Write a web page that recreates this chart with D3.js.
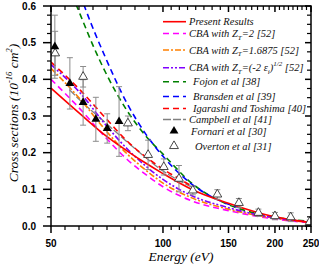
<!DOCTYPE html>
<html>
<head>
<meta charset="utf-8">
<script src="https://cdn.jsdelivr.net/npm/d3@7"></script>
<style>
  body { margin: 0; background: #fff; }
  svg { display: block; }
  .tick-label { font-family: "Liberation Sans", Arial, sans-serif; font-weight: bold; font-size: 10px; fill: #000; }
  .title { font-family: "Liberation Serif", "Times New Roman", serif; font-style: italic; fill: #000; }
  .leg { font-family: "Liberation Serif", "Times New Roman", serif; font-style: italic; font-size: 10.5px; fill: #111; }
</style>
</head>
<body>
<svg id="chart" width="319" height="264"></svg>
<script>
// ---- data ----
var presentE = [50, 60, 70, 80, 90, 100, 120, 150, 175, 200, 225, 250];
var presentY = [0.376, 0.305, 0.247, 0.205, 0.171, 0.143, 0.099, 0.062, 0.040, 0.025, 0.016, 0.009];

var cba2E = [50, 60, 70, 80, 90, 100, 120, 150, 175, 200, 225, 250];
var cba2Y = [0.400, 0.318, 0.242, 0.182, 0.140, 0.107, 0.068, 0.042, 0.028, 0.019, 0.013, 0.009];

var cba16E = [50, 60, 70, 80, 90, 100, 120, 150, 175, 200, 225, 250];
var cba16Y = [0.430, 0.345, 0.262, 0.197, 0.152, 0.117, 0.076, 0.046, 0.031, 0.021, 0.014, 0.010];

var cbaEpsE = [50, 60, 70, 80, 90, 100, 120, 150, 175, 200, 225, 250];
var cbaEpsY = [0.440, 0.362, 0.277, 0.211, 0.163, 0.127, 0.082, 0.050, 0.033, 0.022, 0.015, 0.010];

var fojonE = [57, 60, 65, 70, 80, 90, 100, 120, 150, 175, 200, 225, 250];
var fojonY = [0.63, 0.575, 0.49, 0.42, 0.315, 0.245, 0.196, 0.115, 0.058, 0.036, 0.024, 0.017, 0.012];

var bransE = [60, 62, 70, 80, 90, 100, 120, 140, 160];
var bransY = [0.63, 0.59, 0.46, 0.335, 0.25, 0.19, 0.113, 0.072, 0.050];

var igaE = [50, 60, 70, 80, 90, 100, 110, 120];
var igaY = [0.447, 0.370, 0.295, 0.232, 0.188, 0.155, 0.130, 0.108];

var campE = [56, 60, 70, 80, 90, 100, 110, 120];
var campY = [0.372, 0.342, 0.282, 0.230, 0.186, 0.150, 0.125, 0.105];

var fornariE = [51.2, 56.2, 61, 66, 70.8, 76.2];
var fornariY = [0.489, 0.389, 0.337, 0.291, 0.266, 0.285];
var fornariErr = [0.086, 0.070, 0.062, 0.060, 0.040, 0.095];

var overtonE = [51.3, 61, 80.5, 91.2, 100.5, 110.4, 120.3, 140, 160, 180.5, 200, 220.5, 248];
var overtonY = [0.471, 0.407, 0.280, 0.194, 0.161, 0.129, 0.097, 0.086, 0.063, 0.036, 0.027, 0.024, 0.011];
var overtonErr = [0.060, 0.028, 0.020, 0.040, 0.022, 0.036, 0.012, 0.013, 0.012, 0.010, 0.010, 0.012, 0.005];

var xTickValues = [50, 100, 150, 200, 250];
var yTickValues = [0.0, 0.1, 0.2, 0.3, 0.4, 0.5, 0.6];

// ---- scales ----
var svg = d3.select("#chart");
var pLeft = 51, pRight = 311, pTop = 6, pBottom = 226;

var x = d3.scaleLog().domain([50, 250]).range([pLeft, pRight]);
var y = d3.scaleLinear().domain([0, 0.6]).range([pBottom, pTop]);

svg.append("clipPath").attr("id", "clip")
  .append("rect").attr("x", pLeft).attr("y", pTop).attr("width", pRight - pLeft).attr("height", pBottom - pTop);

var plot = svg.append("g").attr("clip-path", "url(#clip)");

function zip(es, ys) { return es.map(function (e, i) { return [e, ys[i]]; }); }

var line = d3.line()
  .x(function (d) { return x(d[0]); })
  .y(function (d) { return y(d[1]); })
  .curve(d3.curveMonotoneX);

// series: data + style
var series = [
  { data: zip(fojonE, fojonY), color: "#008000", dash: "6,4", w: 1.6 },
  { data: zip(bransE, bransY), color: "#0000ff", dash: "6,4", w: 1.6 },
  { data: zip(campE, campY), color: "#808080", dash: "8,2", w: 1.3 },
  { data: zip(cba2E, cba2Y), color: "#ff00ff", dash: "6,4", w: 1.6 },
  { data: zip(cba16E, cba16Y), color: "#ff8000", dash: "6,2,2,2", w: 1.6 },
  { data: zip(cbaEpsE, cbaEpsY), color: "#8000ff", dash: "6,2,2,2,2,2", w: 1.6 },
  { data: zip(igaE, igaY), color: "#ff0000", dash: "6,4", w: 1.6 },
  { data: zip(presentE, presentY), color: "#ff0000", dash: null, w: 1.6 }
];

series.forEach(function (s) {
  plot.append("path")
    .datum(s.data)
    .attr("d", line)
    .attr("fill", "none")
    .attr("stroke", s.color)
    .attr("stroke-width", s.w)
    .attr("stroke-dasharray", s.dash);
});

// error bars
function errorBars(es, ys, errs) {
  var g = plot.append("g").attr("stroke", "#8c8c8c").attr("stroke-width", 1);
  es.forEach(function (e, i) {
    var cx = x(e), y1 = y(ys[i] + errs[i]), y0 = y(ys[i] - errs[i]);
    g.append("line").attr("x1", cx).attr("x2", cx).attr("y1", y1).attr("y2", y0);
    g.append("line").attr("x1", cx - 3).attr("x2", cx + 3).attr("y1", y1).attr("y2", y1);
    g.append("line").attr("x1", cx - 3).attr("x2", cx + 3).attr("y1", y0).attr("y2", y0);
  });
}
errorBars(fornariE, fornariY, fornariErr);
errorBars(overtonE, overtonY, overtonErr);

var tri = d3.symbol().type(d3.symbolTriangle).size(34);

plot.selectAll(".ov").data(zip(overtonE, overtonY)).enter().append("path")
  .attr("d", tri)
  .attr("transform", function (d) { return "translate(" + x(d[0]) + "," + y(d[1]) + ")"; })
  .attr("fill", "#fff").attr("stroke", "#333").attr("stroke-width", 0.9);

plot.selectAll(".fo").data(zip(fornariE, fornariY)).enter().append("path")
  .attr("d", tri)
  .attr("transform", function (d) { return "translate(" + x(d[0]) + "," + y(d[1]) + ")"; })
  .attr("fill", "#000");

// ---- axes ----
var minorX = [];
for (var k = 0; k < xTickValues.length - 1; k++) {
  var a = Math.log(xTickValues[k]), b = Math.log(xTickValues[k + 1]);
  for (var j = 1; j < 8; j++) minorX.push(Math.exp(a + (b - a) * j / 8));
}
var minorY = d3.range(0, 0.6001, 0.025).filter(function (v) { return Math.abs(v * 10 - Math.round(v * 10)) > 1e-6; });

var ax = svg.append("g").attr("stroke", "#000");
ax.append("rect").attr("x", pLeft).attr("y", pTop).attr("width", pRight - pLeft).attr("height", pBottom - pTop)
  .attr("fill", "none").attr("stroke-width", 1.5);

// bottom (outward) and top (inward)
xTickValues.forEach(function (v) {
  ax.append("line").attr("x1", x(v)).attr("x2", x(v)).attr("y1", pBottom).attr("y2", pBottom + 7).attr("stroke-width", 1.5);
  ax.append("line").attr("x1", x(v)).attr("x2", x(v)).attr("y1", pTop).attr("y2", pTop + 6).attr("stroke-width", 1.5);
});
minorX.forEach(function (v) {
  ax.append("line").attr("x1", x(v)).attr("x2", x(v)).attr("y1", pBottom).attr("y2", pBottom + 4).attr("stroke-width", 1.2);
  ax.append("line").attr("x1", x(v)).attr("x2", x(v)).attr("y1", pTop).attr("y2", pTop + 4).attr("stroke-width", 1.2);
});
// left (outward) and right (inward)
yTickValues.forEach(function (v) {
  ax.append("line").attr("x1", pLeft - 8).attr("x2", pLeft).attr("y1", y(v)).attr("y2", y(v)).attr("stroke-width", 1.5);
  ax.append("line").attr("x1", pRight - 6).attr("x2", pRight).attr("y1", y(v)).attr("y2", y(v)).attr("stroke-width", 1.5);
});
minorY.forEach(function (v) {
  ax.append("line").attr("x1", pLeft - 4).attr("x2", pLeft).attr("y1", y(v)).attr("y2", y(v)).attr("stroke-width", 1.2);
  ax.append("line").attr("x1", pRight - 4).attr("x2", pRight).attr("y1", y(v)).attr("y2", y(v)).attr("stroke-width", 1.2);
});

svg.selectAll(".xl").data(xTickValues).enter().append("text")
  .attr("class", "tick-label")
  .attr("x", function (d) { return x(d); }).attr("y", 247)
  .attr("text-anchor", "middle")
  .text(function (d) { return d; });

svg.selectAll(".yl").data(yTickValues).enter().append("text")
  .attr("class", "tick-label")
  .attr("x", 36).attr("y", function (d) { return y(d) + 3.5; })
  .attr("text-anchor", "end")
  .text(function (d) { return d.toFixed(1); });

// axis titles
svg.append("text").attr("class", "title").attr("font-size", 13.5)
  .attr("x", (pLeft + pRight) / 2).attr("y", 261).attr("text-anchor", "middle")
  .text("Energy (eV)");

var yt = svg.append("text").attr("class", "title").attr("font-size", 13.5)
  .attr("transform", "translate(18,113) rotate(-90)").attr("text-anchor", "middle");
yt.append("tspan").text("Cross sections (10");
yt.append("tspan").attr("font-size", 8.5).attr("dy", -6).text("-16");
yt.append("tspan").attr("dy", 6).text(" cm");
yt.append("tspan").attr("font-size", 8.5).attr("dy", -6).text("2");
yt.append("tspan").attr("dy", 6).text(")");

// ---- legend ----
var legend = svg.append("g");
function legLine(yy, color, dash) {
  legend.append("line").attr("x1", 163).attr("x2", 186).attr("y1", yy).attr("y2", yy)
    .attr("stroke", color).attr("stroke-width", 1.6).attr("stroke-dasharray", dash);
}
function legText(xx, yy) {
  return legend.append("text").attr("class", "leg").attr("x", xx).attr("y", yy + 3.5);
}

legLine(21.7, "#ff0000", null);
legText(189, 21.7).text("Present Results");

legLine(33.5, "#ff00ff", "6,4");
var t2 = legText(189, 33.5);
t2.append("tspan").text("CBA with Z");
t2.append("tspan").attr("font-size", 7).attr("dy", 2.5).text("T");
t2.append("tspan").attr("dy", -2.5).text("=2 [52]");

legLine(50, "#ff8000", "6,2,2,2");
var t3 = legText(189, 50);
t3.append("tspan").text("CBA with Z");
t3.append("tspan").attr("font-size", 7).attr("dy", 2.5).text("T");
t3.append("tspan").attr("dy", -2.5).text("=1.6875 [52]");

legLine(67.7, "#8000ff", "6,2,2,2,2,2");
var t4 = legText(189, 67.7);
t4.append("tspan").text("CBA with Z");
t4.append("tspan").attr("font-size", 7).attr("dy", 2.5).text("T");
t4.append("tspan").attr("dy", -2.5).text("=(-2 \u03b5");
t4.append("tspan").attr("font-size", 7).attr("dy", 2.5).text("i");
t4.append("tspan").attr("dy", -2.5).text(")");
t4.append("tspan").attr("font-size", 7).attr("dy", -5).text("1/2");
t4.append("tspan").attr("dy", 5).text(" [52]");

legLine(81.7, "#008000", "6,4");
legText(193, 81.7).text("Fojon et al [38]");
legLine(96.5, "#0000ff", "6,4");
legText(193, 96.5).text("Bransden et al [39]");
legLine(108.5, "#ff0000", "6,4");
legText(193, 108.5).text("Igarashi and Toshima [40]");
legLine(119.5, "#808080", "8,2");
legText(189, 119.5).text("Campbell et al [41]");

legend.append("path").attr("d", tri).attr("transform", "translate(174,131)").attr("fill", "#000");
legText(191, 131).text("Fornari et al [30]");
legend.append("path").attr("d", tri).attr("transform", "translate(174,146)")
  .attr("fill", "#fff").attr("stroke", "#333").attr("stroke-width", 0.9);
legText(195, 146).text("Overton et al [31]");
</script>
</body>
</html>
